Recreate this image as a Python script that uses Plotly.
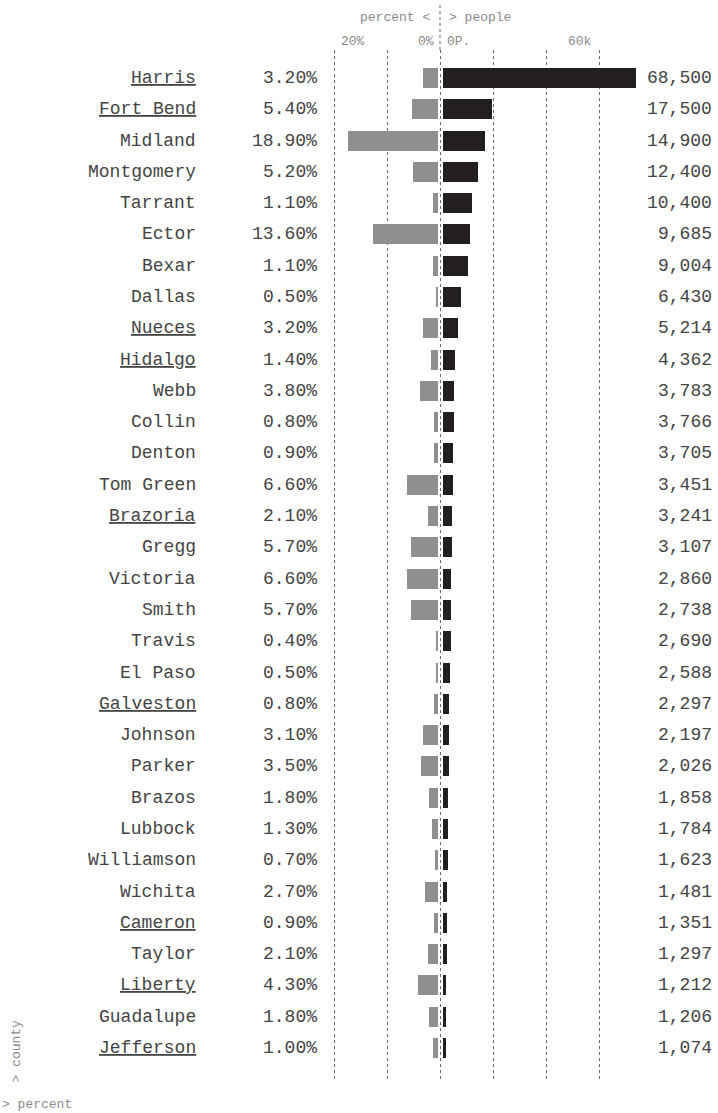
import plotly.graph_objects as go

# ---- data -------------------------------------------------------------
counties = [
    "Harris", "Fort Bend", "Midland", "Montgomery", "Tarrant", "Ector", "Bexar",
    "Dallas", "Nueces", "Hidalgo", "Webb", "Collin", "Denton", "Tom Green",
    "Brazoria", "Gregg", "Victoria", "Smith", "Travis", "El Paso", "Galveston",
    "Johnson", "Parker", "Brazos", "Lubbock", "Williamson", "Wichita", "Cameron",
    "Taylor", "Liberty", "Guadalupe", "Jefferson",
]
percent = [
    3.2, 5.4, 18.9, 5.2, 1.1, 13.6, 1.1, 0.5, 3.2, 1.4, 3.8, 0.8, 0.9, 6.6,
    2.1, 5.7, 6.6, 5.7, 0.4, 0.5, 0.8, 3.1, 3.5, 1.8, 1.3, 0.7, 2.7, 0.9,
    2.1, 4.3, 1.8, 1.0,
]
people = [
    68500, 17500, 14900, 12400, 10400, 9685, 9004, 6430, 5214, 4362, 3783,
    3766, 3705, 3451, 3241, 3107, 2860, 2738, 2690, 2588, 2297, 2197, 2026,
    1858, 1784, 1623, 1481, 1351, 1297, 1212, 1206, 1074,
]
coastal = {"Harris", "Fort Bend", "Nueces", "Hidalgo", "Brazoria", "Galveston",
           "Cameron", "Liberty", "Jefferson"}
pct_ticks = ["20%", "0%"]
people_ticks = ["0P.", "60k"]

# ---- layout geometry (pixels) -------------------------------------------
W, H = 718, 1113
PLOT_L, PLOT_R = 330, 640
PLOT_T, PLOT_B = 50, 1082
GRID_X0, GRID_STEP = 334, 53          # dotted guide lines
PCT_ZERO, PCT_PX = 438, 4.75          # px per percent point
PEO_ZERO, PEO_PX = 443, 0.0028175     # px per person
ROW0, ROW_STEP = 78, 31.29

FONT = "Liberation Mono, Courier New, monospace"
TEXT = "#444444"
MUTED = "#8a8a8a"
GRID = "#6a6a6a"


def fx(p):
    return p / W


def fy(p):
    return 1 - p / H


rows = list(range(len(counties)))

fig = go.Figure()
fig.add_trace(go.Bar(
    x=percent, y=rows, orientation="h", xaxis="x2", yaxis="y",
    marker=dict(color="#8f8f8f", line=dict(width=0)), width=0.64,
    hoverinfo="skip", showlegend=False,
))
fig.add_trace(go.Bar(
    x=people, y=rows, orientation="h", xaxis="x3", yaxis="y",
    marker=dict(color="#231f20", line=dict(width=0)), width=0.64,
    hoverinfo="skip", showlegend=False,
))

annotations = []
for i, (c, p, n) in enumerate(zip(counties, percent, people)):
    label = f"<u>{c}</u>" if c in coastal else c
    annotations.append(dict(
        x=fx(198), xref="paper", xanchor="right", y=i, yref="y", yanchor="middle",
        text=label, showarrow=False, font=dict(family=FONT, size=18, color=TEXT),
    ))
    annotations.append(dict(
        x=fx(319), xref="paper", xanchor="right", y=i, yref="y", yanchor="middle",
        text=f"{p:.2f}%", showarrow=False, font=dict(family=FONT, size=18, color=TEXT),
    ))
    annotations.append(dict(
        x=fx(714), xref="paper", xanchor="right", y=i, yref="y", yanchor="middle",
        text=f"{n:,}", showarrow=False, font=dict(family=FONT, size=18, color=TEXT),
    ))

small = dict(family=FONT, size=13, color=MUTED)
header = [
    (432, 17, "right", "percent &lt;"),
    (447, 17, "left", "&gt; people"),
    (GRID_X0 + 5, 42, "left", pct_ticks[0]),
    (GRID_X0 + 2 * GRID_STEP - 4, 42, "right", pct_ticks[1]),
    (GRID_X0 + 2 * GRID_STEP + 5, 42, "left", people_ticks[0]),
    (GRID_X0 + 5 * GRID_STEP - 5, 42, "right", people_ticks[1]),
]
for x, y, anchor, t in header:
    annotations.append(dict(
        x=fx(x), xref="paper", xanchor=anchor, y=fy(y), yref="paper",
        yanchor="middle", text=t, showarrow=False, font=small,
    ))
annotations.append(dict(
    x=fx(0), xref="paper", xanchor="left", y=fy(1104), yref="paper",
    yanchor="middle", text="&gt; percent", showarrow=False, font=small,
))
annotations.append(dict(
    x=fx(16), xref="paper", xanchor="center", y=fy(1085), yref="paper",
    yanchor="bottom", text="&gt; county", textangle=-90, showarrow=False, font=small,
))

dom_x = [fx(PLOT_L), fx(PLOT_R)]
hidden = dict(showgrid=False, zeroline=False, showticklabels=False, ticks="",
              showline=False, fixedrange=True)

fig.update_layout(
    width=W, height=H, autosize=False,
    margin=dict(l=0, r=0, t=0, b=0, pad=0),
    paper_bgcolor="white", plot_bgcolor="rgba(0,0,0,0)",
    barmode="overlay", bargap=0,
    xaxis=dict(
        domain=dom_x,
        range=[(PLOT_L - GRID_X0) / GRID_STEP, (PLOT_R - GRID_X0) / GRID_STEP],
        tickvals=[0, 1, 2, 3, 4, 5], showgrid=True, gridcolor=GRID,
        griddash="dot", gridwidth=1, zeroline=False, showticklabels=False,
        ticks="", showline=False, fixedrange=True, anchor="y",
    ),
    xaxis2=dict(
        overlaying="x", anchor="y",
        range=[(PCT_ZERO - PLOT_L) / PCT_PX, (PCT_ZERO - PLOT_R) / PCT_PX],
        **hidden,
    ),
    xaxis3=dict(
        overlaying="x", anchor="y",
        range=[(PLOT_L - PEO_ZERO) / PEO_PX, (PLOT_R - PEO_ZERO) / PEO_PX],
        **hidden,
    ),
    yaxis=dict(
        domain=[fy(PLOT_B), fy(PLOT_T)],
        range=[(PLOT_B - ROW0) / ROW_STEP, (PLOT_T - ROW0) / ROW_STEP],
        anchor="x", **hidden,
    ),
    annotations=annotations,
    shapes=[dict(
        type="line", xref="x", yref="paper", x0=2, x1=2,
        y0=fy(PLOT_T), y1=fy(4), layer="below",
        line=dict(color=GRID, width=1, dash="dot"),
    )],
    font=dict(family=FONT, color=TEXT),
)

fig.write_html("out.html")
